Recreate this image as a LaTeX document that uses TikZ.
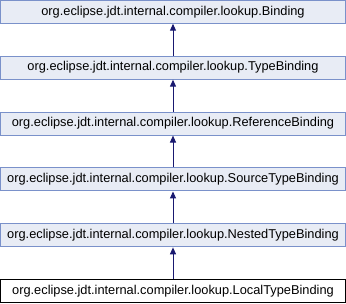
\documentclass[tikz,border=0pt]{standalone}
\usepackage{fontspec}
\setmainfont{Liberation Sans}
\usetikzlibrary{arrows.meta}
\definecolor{boxfill}{RGB}{232,236,245}
\definecolor{boxline}{RGB}{122,145,202}
\definecolor{edgeblue}{RGB}{25,25,112}
\tikzset{
  cls/.style={draw=boxline, fill=boxfill, line width=1pt, rectangle,
    minimum width=345pt, minimum height=23pt, inner sep=0pt,
    font=\fontsize{12.8}{15}\selectfont},
  current/.style={cls, draw=black, fill=white},
  inherit/.style={draw=edgeblue, line width=1pt,
    -{Triangle[width=6pt,length=7pt]}}
}
\begin{document}
\begin{tikzpicture}[x=1pt,y=-1pt]
\useasboundingbox (0,0) rectangle (346,304);
\node[cls] (binding) at (173,11.75) {org.eclipse.jdt.internal.compiler.lookup.Binding};
\node[cls] (type) at (173,67.65) {org.eclipse.jdt.internal.compiler.lookup.TypeBinding};
\node[cls] (ref) at (173,123.55) {org.eclipse.jdt.internal.compiler.lookup.ReferenceBinding};
\node[cls] (source) at (173,179.45) {org.eclipse.jdt.internal.compiler.lookup.SourceTypeBinding};
\node[cls] (nested) at (173,235.35) {org.eclipse.jdt.internal.compiler.lookup.NestedTypeBinding};
\node[current] (local) at (173,291.25) {org.eclipse.jdt.internal.compiler.lookup.LocalTypeBinding};
\draw[inherit] (type) -- (binding);
\draw[inherit] (ref) -- (type);
\draw[inherit] (source) -- (ref);
\draw[inherit] (nested) -- (source);
\draw[inherit] (local) -- (nested);
\end{tikzpicture}
\end{document}
